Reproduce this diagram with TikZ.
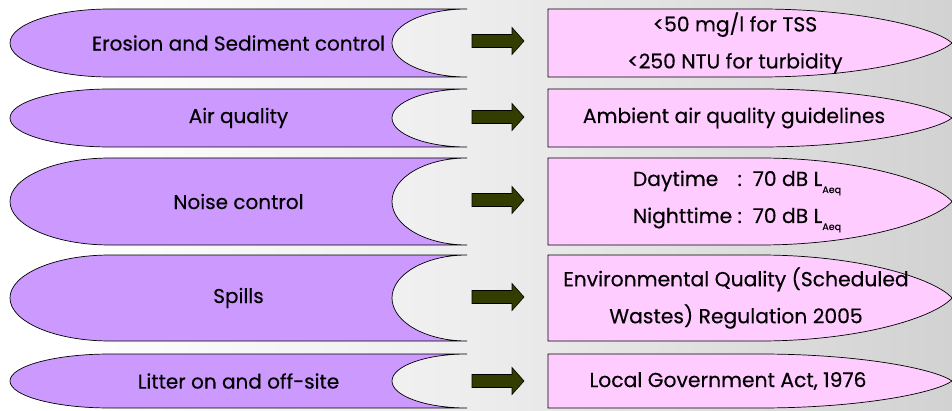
\documentclass[tikz,border=0pt]{standalone}
\usepackage{fontspec}
\setmainfont{Poppins}[FakeBold=0.3]
\definecolor{lav}{HTML}{CC99FF}
\definecolor{pinkbox}{HTML}{FFCCFF}
\definecolor{olivearrow}{RGB}{51,61,0}
\definecolor{bgmid}{HTML}{EDEDED}
\definecolor{bgend}{HTML}{D2D2D2}
\newcommand{\leftleaf}[2]{%
  \draw[leftshape] (467,{#1+#2}) -- (110,{#1+#2})
    arc[start angle=90,end angle=270,x radius=100pt,y radius={#2*1pt}]
    -- (467,{#1-#2})
    arc[start angle=270,end angle=90,x radius=75pt,y radius={#2*1pt}]
    -- cycle;}
\newcommand{\rightleaf}[2]{%
  \draw[rightshape] (548,{#1+#2}) -- (760,{#1+#2})
    .. controls (860,{#1+#2}) and (935,{#1+0.45*#2}) .. (952,#1)
    .. controls (935,{#1-0.45*#2}) and (860,{#1-#2}) .. (760,{#1-#2})
    -- (548,{#1-#2}) -- cycle;}
\newcommand{\blockarr}[1]{%
  \draw[arrowshape] (472,{#1-6.5}) -- (512,{#1-6.5}) -- (512,{#1-13.5})
    -- (524,#1) -- (512,{#1+13.5}) -- (512,{#1+6.5}) -- (472,{#1+6.5}) -- cycle;}
\newcommand{\lsub}[1]{\raisebox{-7pt}{\fontsize{9.5}{9.5}\selectfont #1}}
\begin{document}
\begin{tikzpicture}[x=1pt,y=1pt,
  leftshape/.style={fill=lav,draw=black,line width=0.7pt},
  rightshape/.style={fill=pinkbox,draw=black,line width=0.7pt},
  arrowshape/.style={fill=olivearrow,draw=black,line width=0.6pt},
  lbl/.style={font=\fontsize{20}{24}\selectfont,inner sep=0pt,align=center},
  rlbl/.style={font=\fontsize{20.3}{37}\selectfont,inner sep=0pt,align=center}]
\useasboundingbox (0,0) rectangle (952,410);
% background
\fill[white] (0,0) rectangle (61,410);
\shade[left color=white,right color=bgmid] (60,0) rectangle (471,410);
\shade[left color=bgmid,right color=bgend] (470,0) rectangle (952,410);
% left shapes
\leftleaf{367}{34}
\leftleaf{292}{29}
\leftleaf{208.5}{43.5}
\leftleaf{112}{43}
\leftleaf{29}{27}
% right shapes
\rightleaf{367}{34}
\rightleaf{292}{29}
\rightleaf{208.5}{43.5}
\rightleaf{112}{43}
\rightleaf{29}{27}
% arrows
\blockarr{369}
\blockarr{293}
\blockarr{210}
\blockarr{113}
\blockarr{29}
% labels
\node[lbl] (l1) at (238.5,367) {Erosion and Sediment control};
\node[lbl] (l2) at (238.5,292) {Air quality};
\node[lbl] (l3) at (238.5,208.5) {Noise control};
\node[lbl] (l4) at (238.5,112) {Spills};
\node[lbl] (l5) at (238.5,29) {Litter on and off-site};
\node[rlbl] (r1) at (735,367) {<50 mg/l for TSS\\<250 NTU for turbidity};
\node[rlbl] (r2) at (734,292) {Ambient air quality guidelines};
\node[rlbl] (r3) at (737,208.5) {\rlap{Daytime}\phantom{Nighttime} :\ \ 70 dB L\lsub{Aeq}\\Nighttime :\ \ 70 dB L\lsub{Aeq}};
\node[rlbl] (r4) at (736,112) {Environmental Quality (Scheduled\\Wastes) Regulation 2005};
\node[rlbl] (r5) at (728,29) {Local Government Act, 1976};
\end{tikzpicture}
\end{document}
